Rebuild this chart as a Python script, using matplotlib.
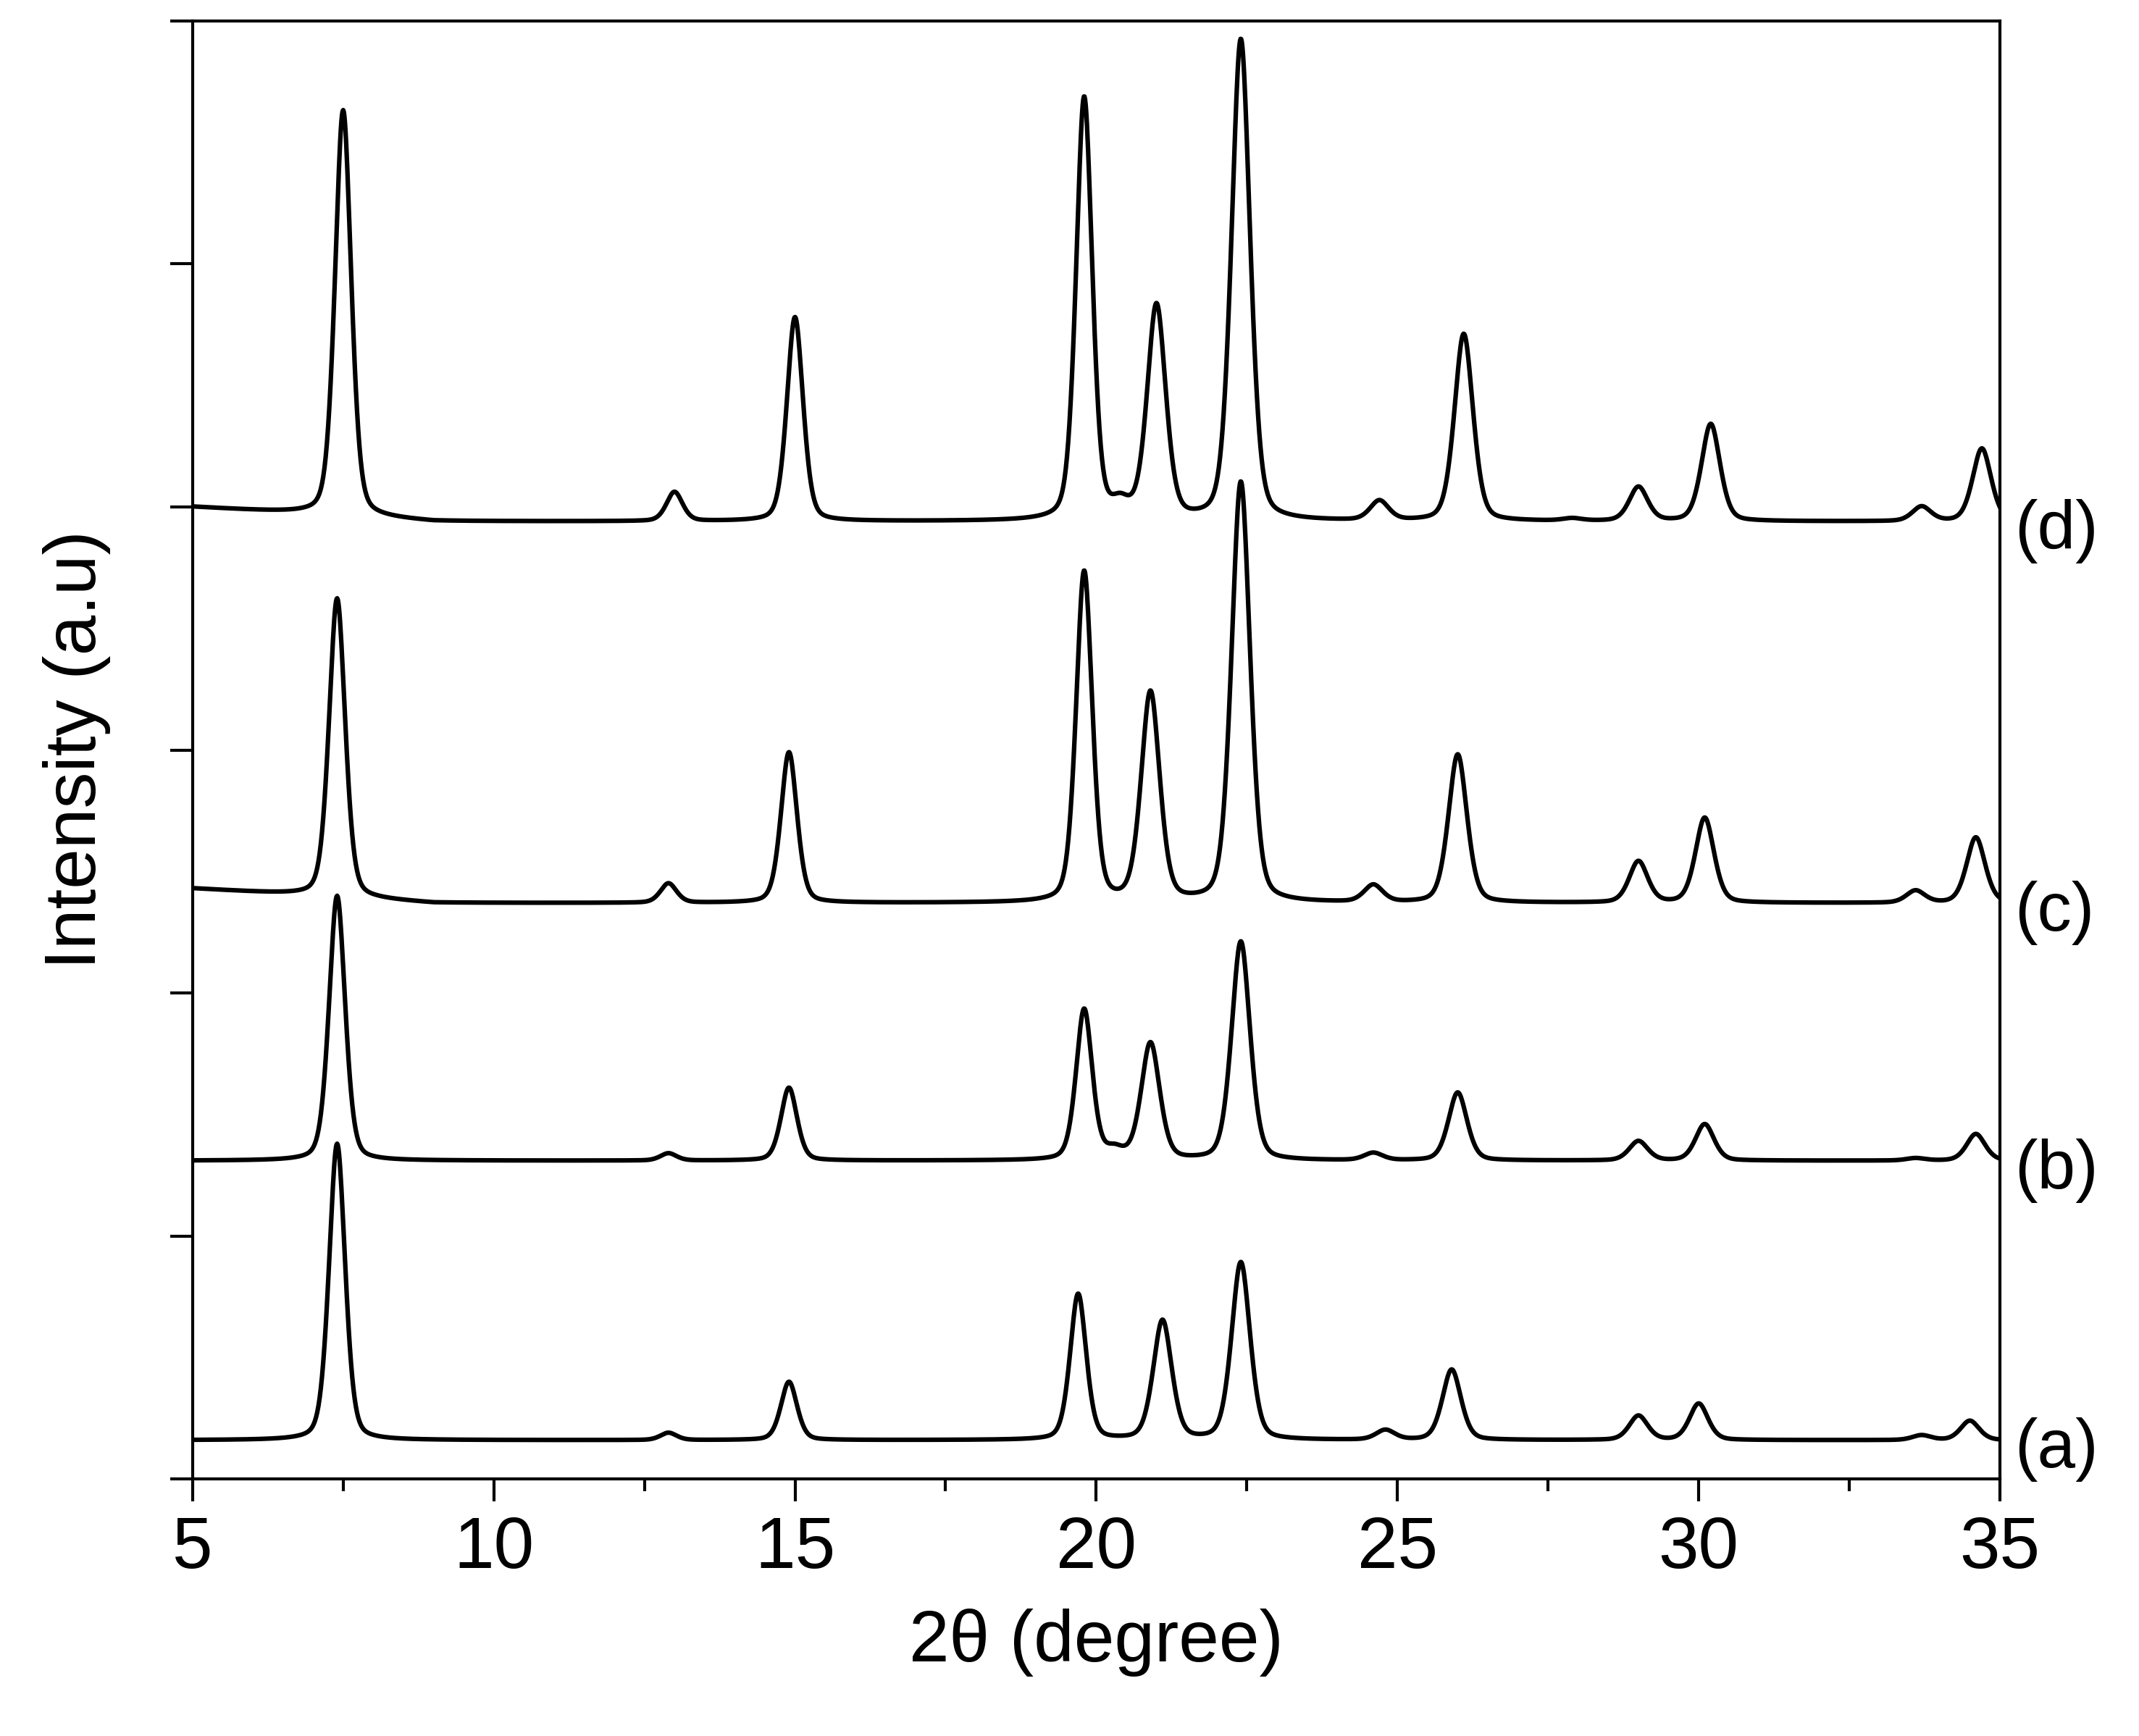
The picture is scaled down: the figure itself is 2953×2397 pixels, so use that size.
import numpy as np
import matplotlib.pyplot as plt
from matplotlib.ticker import MultipleLocator

plt.rcParams['font.family'] = ['Liberation Sans', 'DejaVu Sans']

# peak positions (2theta) and heights above baseline for each sample
pos_a = [7.4, 12.9, 14.9, 19.7, 21.1, 22.4, 24.8, 25.9, 29.0, 30.0, 33.7, 34.5]
hgt_a = [1.22, 0.03, 0.24, 0.60, 0.49, 0.73, 0.04, 0.29, 0.10, 0.15, 0.02, 0.08]
pos_b = [7.4, 12.9, 14.9, 19.8, 20.3, 20.9, 22.4, 24.6, 26.0, 29.0, 30.1, 33.6, 34.6]
hgt_b = [1.09, 0.03, 0.30, 0.62, 0.04, 0.48, 0.90, 0.03, 0.28, 0.08, 0.15, 0.01, 0.11]
pos_c = [7.4, 12.9, 14.9, 19.8, 20.9, 22.4, 24.6, 26.0, 29.0, 30.1, 33.6, 34.6]
hgt_c = [1.23, 0.08, 0.62, 1.36, 0.86, 1.73, 0.07, 0.61, 0.17, 0.35, 0.05, 0.27]
pos_d = [7.5, 13.0, 15.0, 19.8, 20.4, 21.0, 22.4, 24.7, 26.1, 27.9, 29.0, 30.2, 33.7, 34.7]
hgt_d = [1.67, 0.12, 0.84, 1.74, 0.06, 0.88, 1.98, 0.08, 0.77, 0.01, 0.14, 0.40, 0.06, 0.30]
wid = 0.14

base_a = 0.16
base_b = 1.31
base_c = 2.37
base_d = 3.94
labels = ['(a)', '(b)', '(c)', '(d)']

x = np.linspace(5, 35, 3000)

def pattern(pos, hgt, base, slope):
    y = base + slope * np.clip((9 - x) / 4, 0, 1)
    for p, h in zip(pos, hgt):
        w = wid * (1.0 + 0.15 * (p > 20))
        y = y + h * 0.35 / (1 + ((x - p) / w) ** 2) + h * 0.65 * np.exp(-0.5 * ((x - p) / w) ** 2)
    return y

fig = plt.figure(figsize=(29.53, 23.97), dpi=100)
ax = fig.add_axes([0.09, 0.148, 0.845, 0.84])
curves = [(pos_a, hgt_a, base_a, 0.0), (pos_b, hgt_b, base_b, 0.0),
          (pos_c, hgt_c, base_c, 0.06), (pos_d, hgt_d, base_d, 0.06)]
for (p, h, b, s), lab in zip(curves, labels):
    ax.plot(x, pattern(p, h, b, s), color='black', lw=4.5)
    ax.text(1.008, b - 0.04, lab, transform=ax.get_yaxis_transform(), fontsize=68,
            va='center', ha='left')

ax.set_xlim(5, 35)
ax.set_ylim(0, 6)
ax.xaxis.set_major_locator(MultipleLocator(5))
ax.xaxis.set_minor_locator(MultipleLocator(2.5))
ax.yaxis.set_major_locator(MultipleLocator(1))
ax.set_yticklabels([])
ax.tick_params(which='major', length=22, width=3, labelsize=72, direction='out', pad=14)
ax.tick_params(which='minor', length=12, width=3, direction='out')
for sp in ax.spines.values():
    sp.set_linewidth(3)
ax.set_xlabel('2θ (degree)', fontsize=72, labelpad=25)
ax.set_ylabel('Intensity (a.u)', fontsize=72, labelpad=45)
fig.savefig('out.png', dpi=100)
